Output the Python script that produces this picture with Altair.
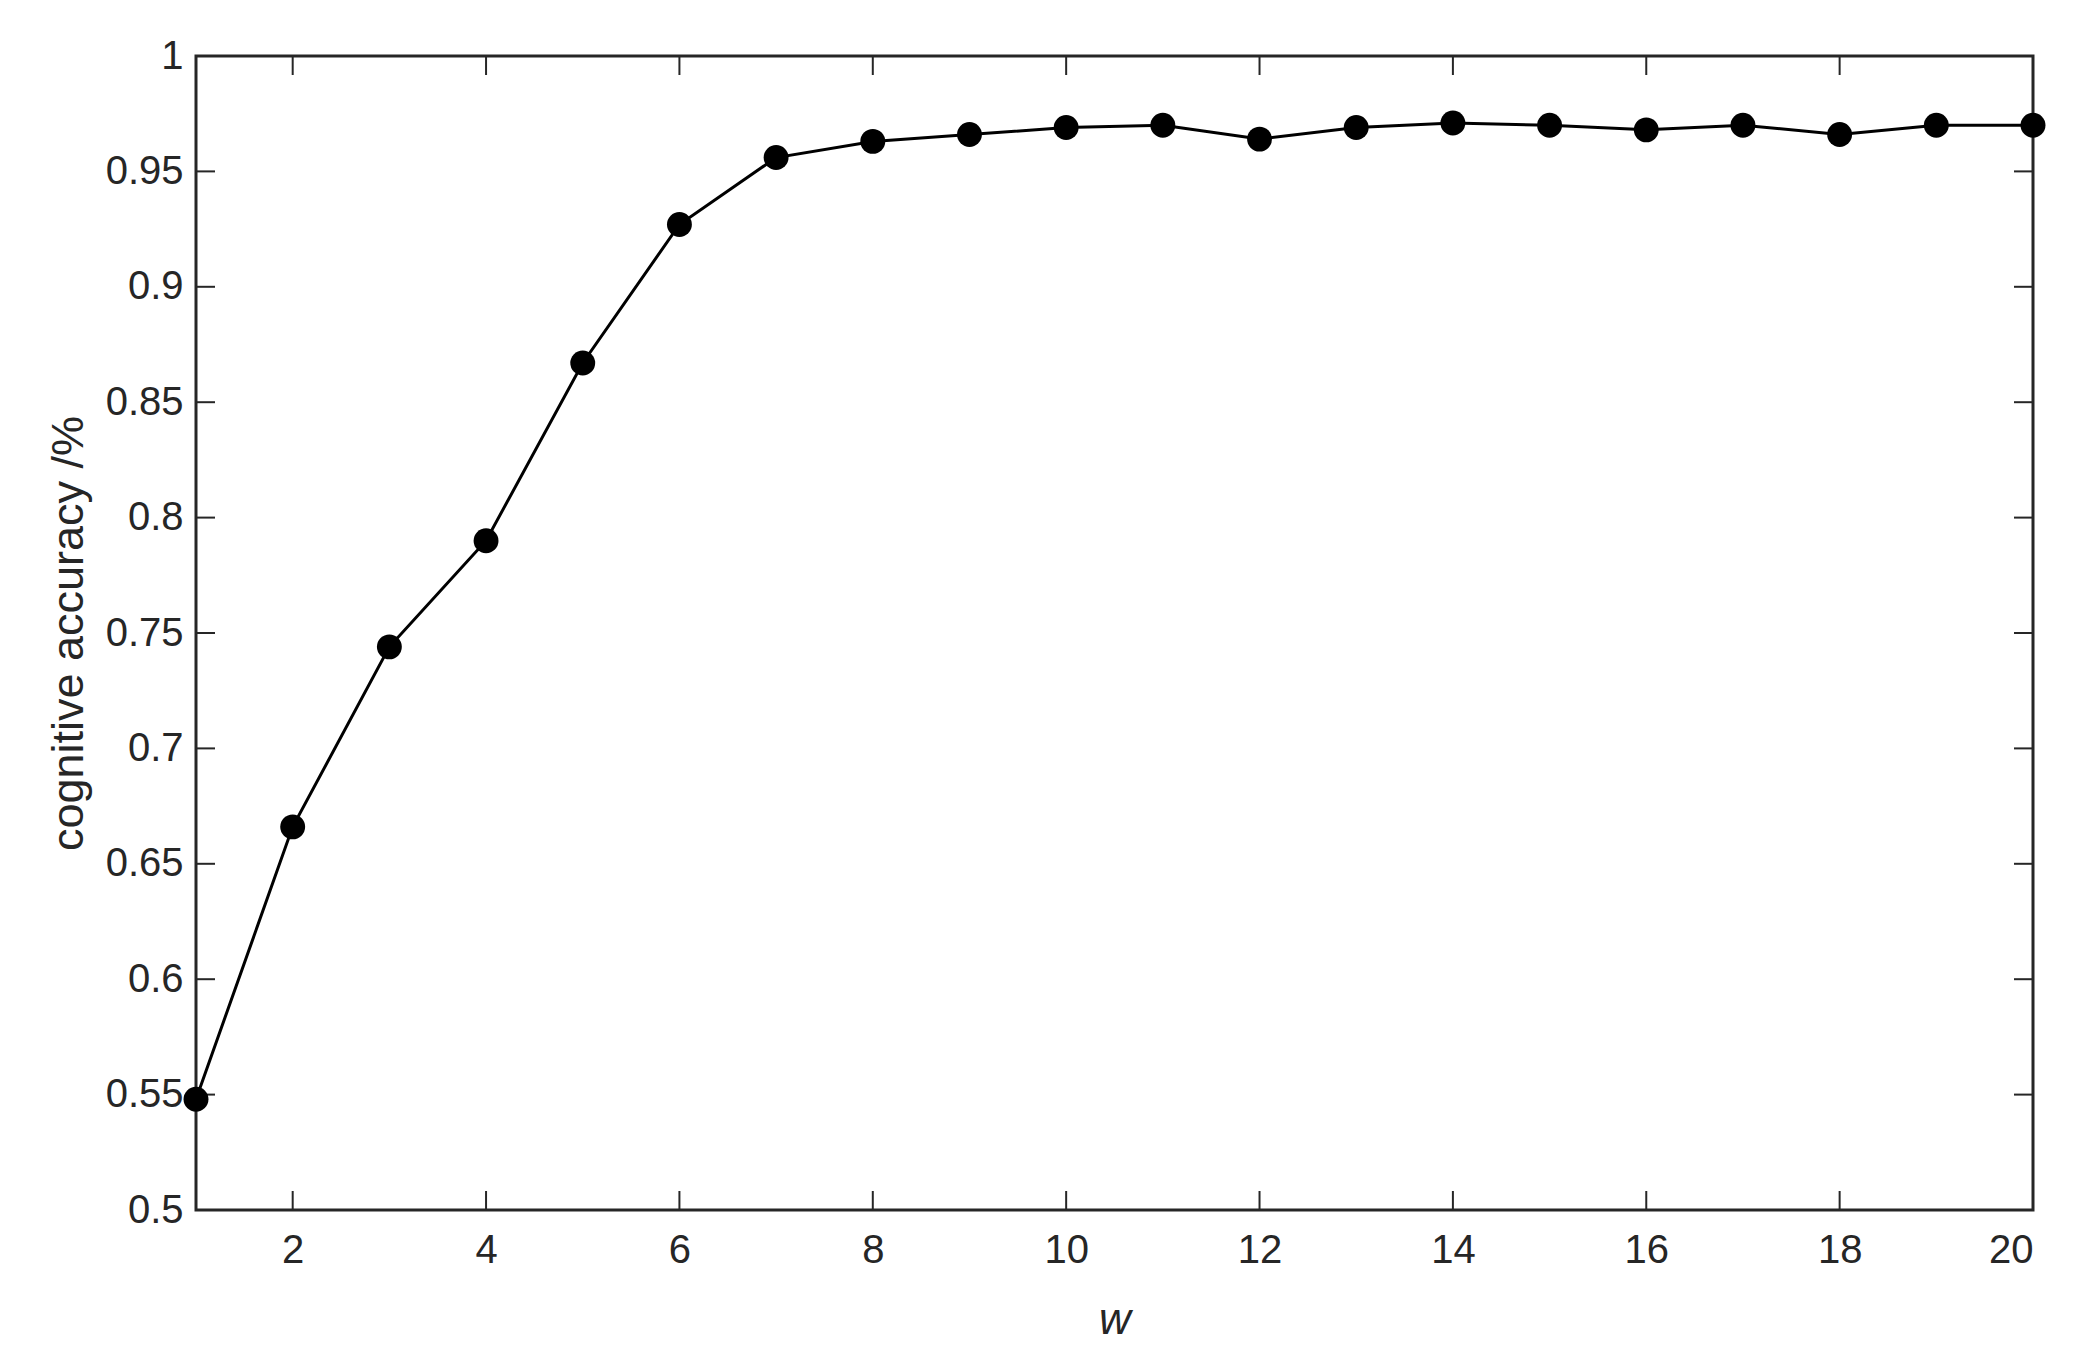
import altair as alt
import pandas as pd

w_values = list(range(1, 21))
accuracy = [0.548, 0.666, 0.744, 0.790, 0.867, 0.927, 0.956, 0.963, 0.966, 0.969,
            0.970, 0.964, 0.969, 0.971, 0.970, 0.968, 0.970, 0.966, 0.970, 0.970]
x_ticks = [2, 4, 6, 8, 10, 12, 14, 16, 18, 20]
y_ticks = [0.5, 0.55, 0.6, 0.65, 0.7, 0.75, 0.8, 0.85, 0.9, 0.95, 1.0]

df = pd.DataFrame({"w": w_values, "acc": accuracy})
xt = pd.DataFrame({"w": x_ticks})
yt = pd.DataFrame({"acc": y_ticks})

W, H = 1837, 1154
TL = 19
TXT = "#262626"
FONT = "Liberation Sans"

xs = alt.Scale(domain=[1, 20], nice=False, zero=False)
ys = alt.Scale(domain=[0.5, 1.0], nice=False, zero=False)

x_axis = alt.Axis(
    orient="bottom", values=x_ticks, ticks=False, tickSize=0, domain=False,
    grid=False, labelFont=FONT, labelFontSize=40, labelColor=TXT,
    labelPadding=20, title="w", titleFont=FONT, titleFontSize=44,
    titleFontStyle="italic", titleFontWeight="normal", titleColor=TXT,
    titlePadding=28)
y_axis = alt.Axis(
    orient="left", values=y_ticks, ticks=False, tickSize=0, domain=False,
    grid=False, format=".2~f", labelFont=FONT, labelFontSize=40,
    labelColor=TXT, labelPadding=13, title="cognitive accuracy /%",
    titleFont=FONT, titleFontSize=45, titleFontWeight="normal",
    titleColor=TXT, titlePadding=14)

X = alt.X("w:Q", scale=xs, axis=x_axis, title="w")
Y = alt.Y("acc:Q", scale=ys, axis=y_axis, title="cognitive accuracy /%")

line = alt.Chart(df).mark_line(color="black", strokeWidth=3).encode(x=X, y=Y)
pts = alt.Chart(df).mark_point(filled=True, color="black", size=620,
                               opacity=1).encode(x=X, y=Y)

rule_style = dict(color=TXT, strokeWidth=2)
xt_bottom = alt.Chart(xt).mark_rule(**rule_style).encode(
    x=X, y=alt.value(H), y2=alt.value(H - TL))
xt_top = alt.Chart(xt).mark_rule(**rule_style).encode(
    x=X, y=alt.value(0), y2=alt.value(TL))
yt_left = alt.Chart(yt).mark_rule(**rule_style).encode(
    y=Y, x=alt.value(0), x2=alt.value(TL))
yt_right = alt.Chart(yt).mark_rule(**rule_style).encode(
    y=Y, x=alt.value(W), x2=alt.value(W - TL))

chart = alt.layer(line, xt_bottom, xt_top, yt_left, yt_right, pts).properties(
    width=W, height=H,
    background="white",
    autosize=alt.AutoSizeParams(type="none"),
    padding={"left": 188, "top": 48, "right": 30, "bottom": 140},
).configure_view(
    stroke=TXT, strokeWidth=3
)

chart.save("out.html", embed_options={"renderer": "svg", "actions": False})
